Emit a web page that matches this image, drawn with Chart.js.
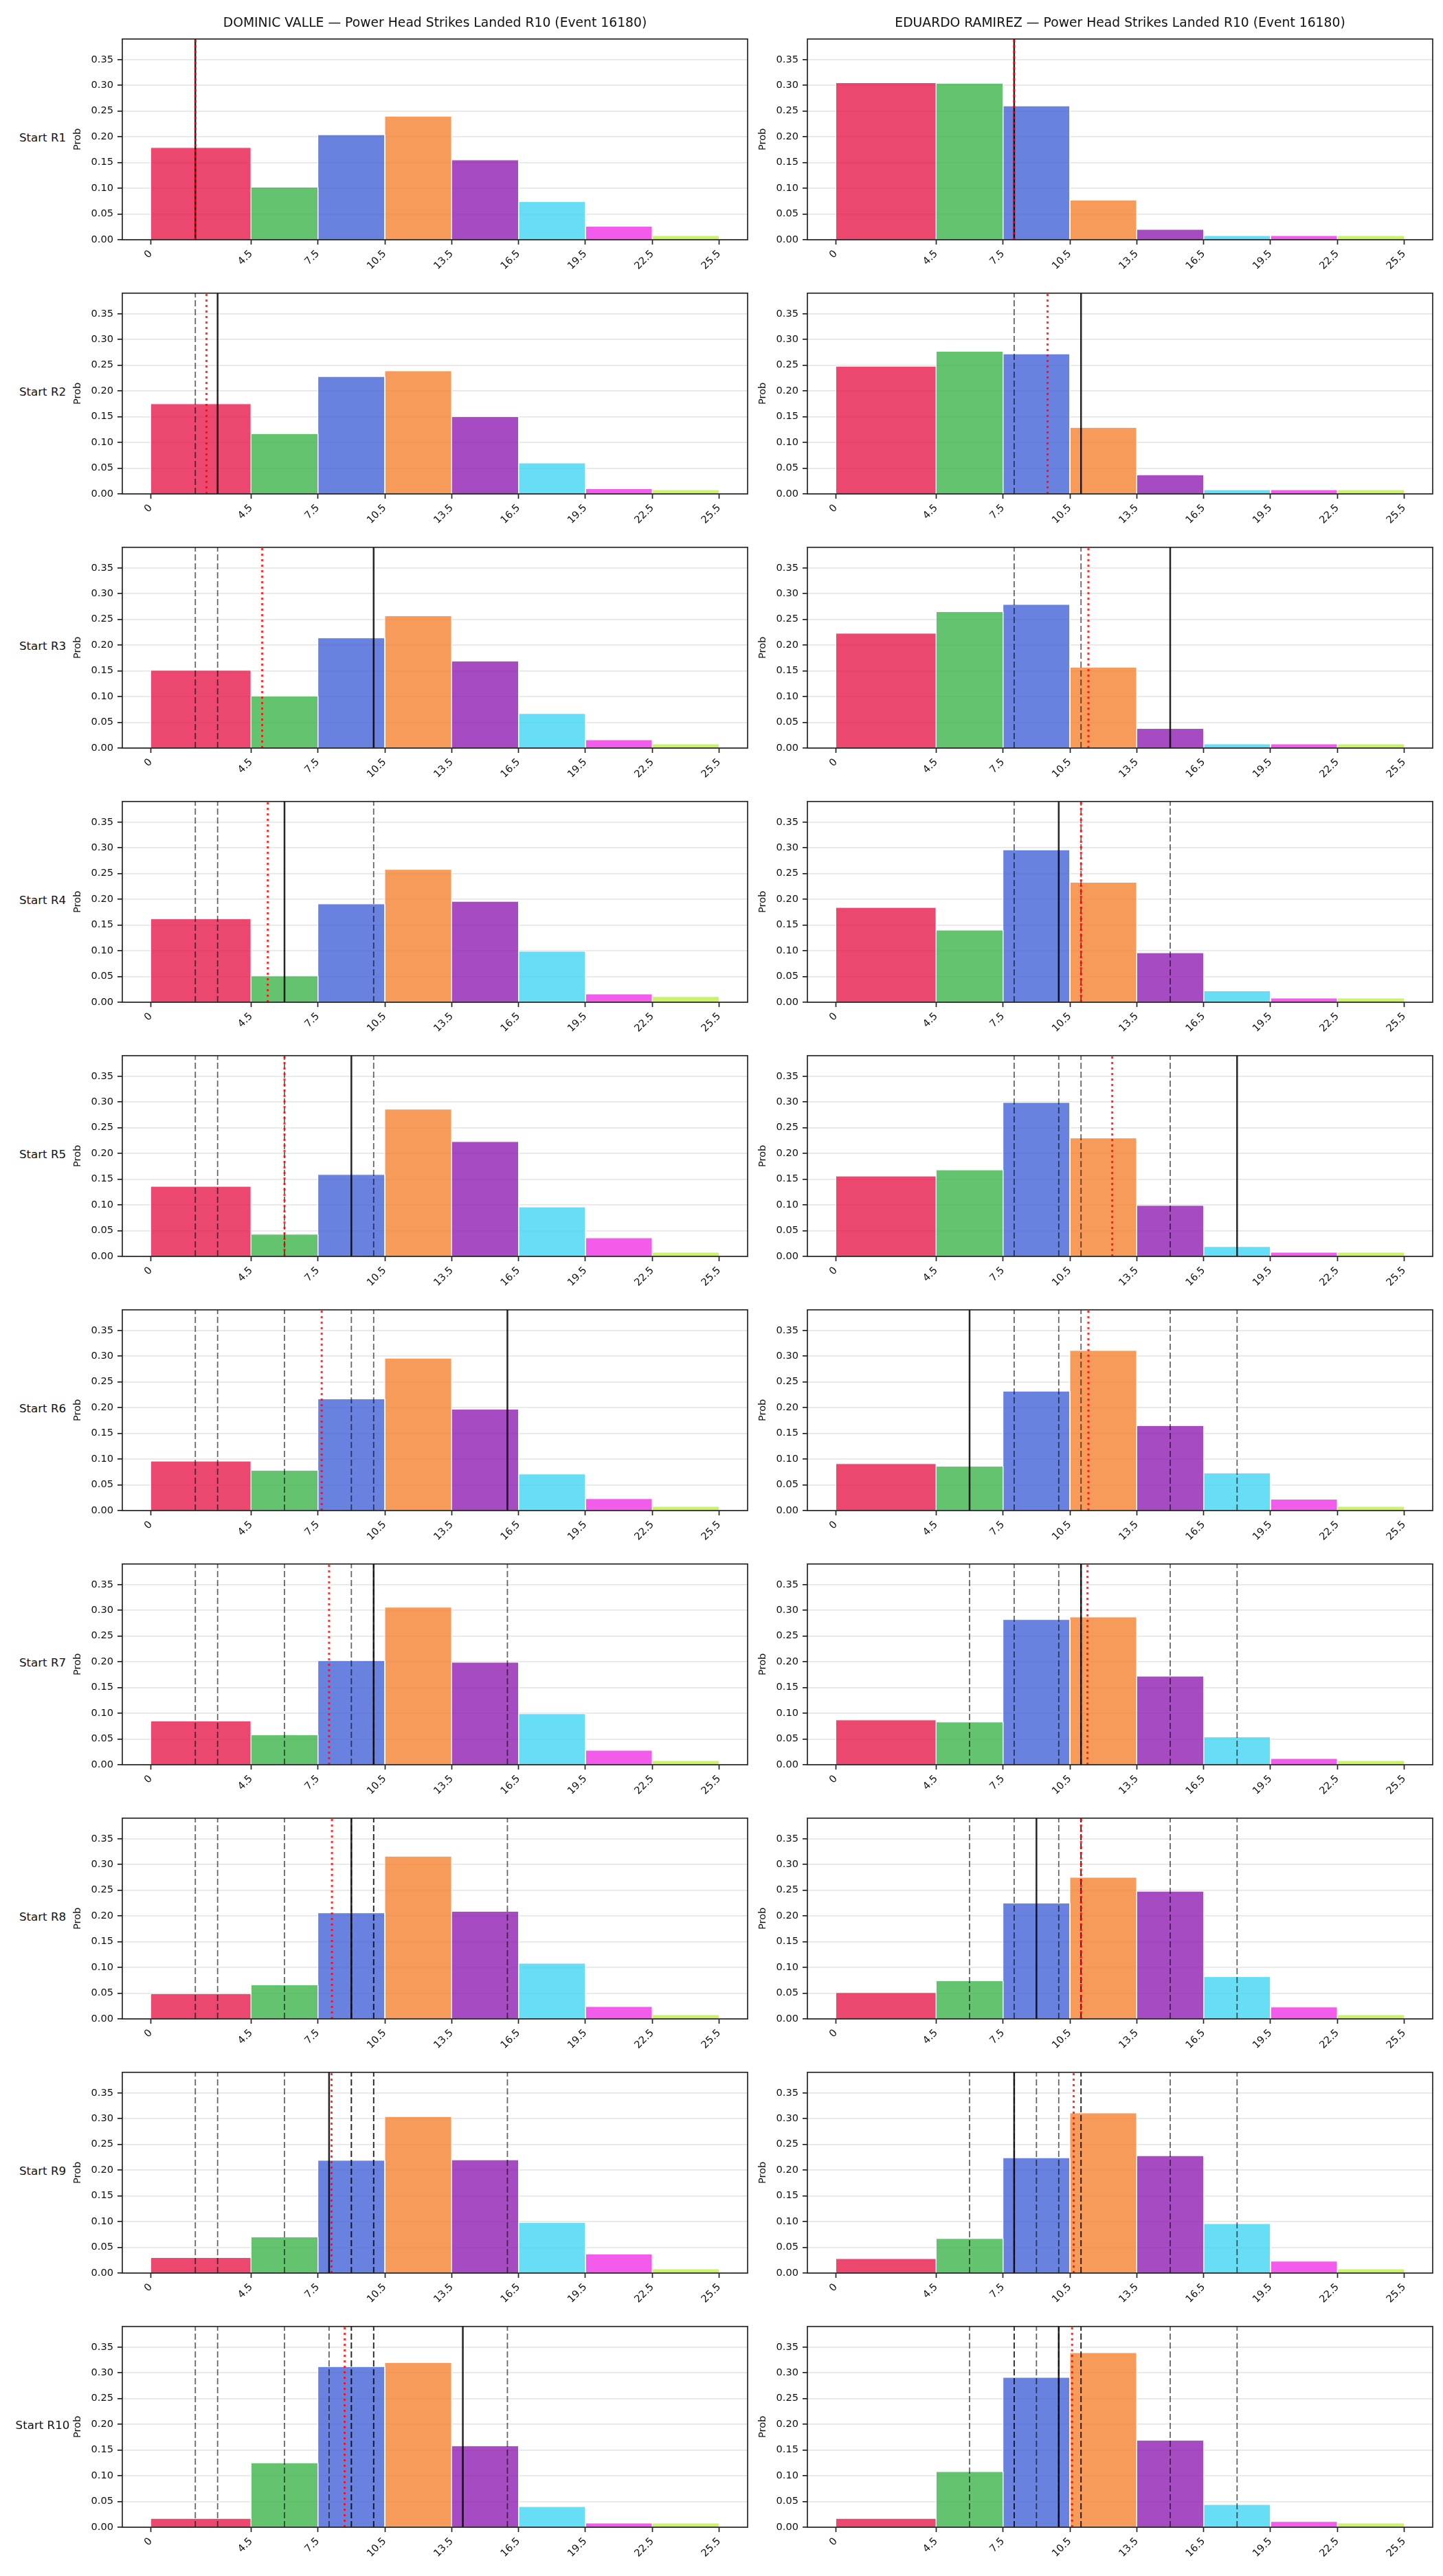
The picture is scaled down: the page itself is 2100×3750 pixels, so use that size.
<!DOCTYPE html>
<html>
<head>
<meta charset="utf-8">
<script src="https://cdn.jsdelivr.net/npm/chart.js@4.4.1/dist/chart.umd.min.js"></script>
<style>
  body { margin: 0; background: #fff; width: 2100px; height: 3750px; position: relative; overflow: hidden; font-family: "DejaVu Sans", sans-serif; }
  canvas { position: absolute; }
  .title { position: absolute; font-size: 18.75px; color: #111; white-space: nowrap; transform: translate(-50%, -50%); }
  .rowlab { position: absolute; font-size: 16.67px; color: #111; white-space: nowrap; transform: translate(-50%, -50%); }
</style>
</head>
<body>
<script>
// bins and ticks
const binEdges = [0, 4.5, 7.5, 10.5, 13.5, 16.5, 19.5, 22.5, 25.5]
const xTickLabels = ["0", "4.5", "7.5", "10.5", "13.5", "16.5", "19.5", "22.5", "25.5"]
const yTickValues = [0, 0.05, 0.10, 0.15, 0.20, 0.25, 0.30, 0.35]
const yTickLabels = ["0.00", "0.05", "0.10", "0.15", "0.20", "0.25", "0.30", "0.35"]
const binColors = ["230,25,75", "60,180,75", "67,99,216", "245,130,49", "145,30,180", "66,212,244", "240,50,230", "191,239,69"]
const roundLabels = ["Start R1", "Start R2", "Start R3", "Start R4", "Start R5", "Start R6", "Start R7", "Start R8", "Start R9", "Start R10"]

const fighters = ["DOMINIC VALLE", "EDUARDO RAMIREZ"]
const titleSuffix = " — Power Head Strikes Landed R10 (Event 16180)"

// probabilities per bin, one row per starting round
const valleProbs = [
  [0.179, 0.102, 0.204, 0.240, 0.155, 0.074, 0.026, 0.008],
  [0.175, 0.117, 0.228, 0.239, 0.150, 0.060, 0.010, 0.008],
  [0.151, 0.101, 0.214, 0.257, 0.169, 0.067, 0.016, 0.008],
  [0.162, 0.051, 0.191, 0.258, 0.196, 0.099, 0.016, 0.011],
  [0.136, 0.043, 0.159, 0.286, 0.223, 0.096, 0.036, 0.008],
  [0.096, 0.078, 0.217, 0.296, 0.197, 0.071, 0.023, 0.008],
  [0.085, 0.058, 0.202, 0.306, 0.199, 0.099, 0.028, 0.008],
  [0.049, 0.066, 0.206, 0.316, 0.209, 0.108, 0.024, 0.008],
  [0.030, 0.070, 0.219, 0.304, 0.220, 0.098, 0.037, 0.008],
  [0.017, 0.125, 0.312, 0.320, 0.158, 0.040, 0.008, 0.008]
]
const ramirezProbs = [
  [0.305, 0.304, 0.260, 0.077, 0.020, 0.008, 0.008, 0.008],
  [0.248, 0.277, 0.272, 0.129, 0.037, 0.008, 0.008, 0.008],
  [0.223, 0.265, 0.279, 0.157, 0.038, 0.008, 0.008, 0.008],
  [0.184, 0.140, 0.296, 0.233, 0.096, 0.022, 0.008, 0.008],
  [0.156, 0.168, 0.299, 0.230, 0.099, 0.019, 0.008, 0.008],
  [0.091, 0.086, 0.232, 0.311, 0.165, 0.073, 0.022, 0.008],
  [0.087, 0.083, 0.282, 0.287, 0.172, 0.054, 0.012, 0.008],
  [0.051, 0.074, 0.225, 0.275, 0.248, 0.082, 0.023, 0.008],
  [0.028, 0.067, 0.224, 0.311, 0.228, 0.096, 0.023, 0.008],
  [0.017, 0.108, 0.291, 0.339, 0.169, 0.044, 0.011, 0.008]
]

// landed per round (solid line), earlier rounds shown dashed
const valleActual = [2, 3, 10, 6, 9, 16, 10, 9, 8, 14]
const ramirezActual = [8, 11, 15, 10, 18, 6, 11, 9, 8, 10]
// running average (red dotted line)
const valleMean = [2, 2.5, 5, 5.25, 6, 7.67, 8, 8.13, 8.11, 8.7]
const ramirezMean = [8, 9.5, 11.33, 11, 12.4, 11.33, 11.29, 11, 10.67, 10.6]

const Y_MAX = 0.39
const X_MIN = -1.275
const X_MAX = 26.775

Chart.defaults.font.family = "DejaVu Sans"
Chart.defaults.color = "#111"

const W_Y = 78, H_X = 62, PAD_T = 8, PAD_R = 5, PLOT_W = 910, PLOT_H = 299
const CW = W_Y + PLOT_W + PAD_R, CH = PAD_T + PLOT_H + H_X
const colLeft = [100, 1097]
const ROW0 = 42, ROW_STEP = 370

const framePlugin = {
  id: "frame",
  afterDraw(chart){
    const ctx = chart.ctx
    const a = chart.chartArea
    ctx.save()
    ctx.strokeStyle = "#222"
    ctx.lineWidth = 1.67
    ctx.strokeRect(a.left, a.top, a.right - a.left, a.bottom - a.top)
    ctx.restore()
  }
}

function vline(x, color, width, dash, order){
  return {
    type: "line",
    data: [{x: x, y: 0}, {x: x, y: Y_MAX}],
    borderColor: color,
    borderWidth: width,
    borderDash: dash,
    pointRadius: 0,
    fill: false,
    order: order
  }
}

function makePanel(col, row, probs, actual, mean){
  const canvas = document.createElement("canvas")
  canvas.width = CW
  canvas.height = CH
  canvas.style.width = CW + "px"
  canvas.style.height = CH + "px"
  canvas.style.left = colLeft[col] + "px"
  canvas.style.top = (ROW0 + ROW_STEP * row) + "px"
  document.body.appendChild(canvas)

  const datasets = []

  // bars as filled rectangles in data space
  probs.forEach((p, i) => {
    datasets.push({
      type: "line",
      data: [
        {x: binEdges[i], y: 0},
        {x: binEdges[i], y: p},
        {x: binEdges[i + 1], y: p},
        {x: binEdges[i + 1], y: 0}
      ],
      backgroundColor: `rgba(${binColors[i]},0.8)`,
      borderColor: "#ffffff",
      borderWidth: 1,
      pointRadius: 0,
      tension: 0,
      fill: "origin",
      order: 10
    })
  })

  for (let k = 0; k < row; k++){
    datasets.push(vline(actual[k], "rgba(0,0,0,0.6)", 1.8, [9, 4], 3))
  }
  datasets.push(vline(actual[row], "rgba(0,0,0,0.85)", 2.5, [], 2))
  datasets.push(vline(mean[row], "rgba(255,0,0,0.8)", 3, [3, 5], 1))

  new Chart(canvas, {
    type: "line",
    data: { datasets: datasets },
    options: {
      responsive: false,
      animation: false,
      devicePixelRatio: 1,
      layout: { padding: { top: PAD_T, right: PAD_R, left: 0, bottom: 0 } },
      plugins: { legend: { display: false }, tooltip: { enabled: false } },
      scales: {
        x: {
          type: "linear",
          min: X_MIN,
          max: X_MAX,
          afterBuildTicks: axis => { axis.ticks = binEdges.map(v => ({value: v})) },
          afterFit: scale => { scale.height = H_X },
          border: { display: false },
          grid: { drawOnChartArea: false, drawTicks: true, tickLength: 7, tickColor: "#222", tickWidth: 1.67 },
          ticks: {
            autoSkip: false,
            minRotation: 45,
            maxRotation: 45,
            padding: 5,
            font: { size: 14.6 },
            color: "#111",
            callback: (v, i) => xTickLabels[i]
          }
        },
        y: {
          min: 0,
          max: Y_MAX,
          z: 1,
          afterBuildTicks: axis => { axis.ticks = yTickValues.map(v => ({value: v})) },
          afterFit: scale => { scale.width = W_Y },
          border: { display: false },
          grid: { color: "rgba(176,176,176,0.3)", lineWidth: 1.67, drawTicks: true, tickLength: 7, tickColor: "#222", tickWidth: 1.67 },
          ticks: {
            padding: 6,
            font: { size: 14.6 },
            color: "#111",
            callback: (v, i) => yTickLabels[i]
          },
          title: { display: true, text: "Prob", font: { size: 14.6 }, color: "#111", padding: { top: 4, bottom: 0 } }
        }
      }
    },
    plugins: [framePlugin]
  })
}

for (let r = 0; r < roundLabels.length; r++){
  makePanel(0, r, valleProbs[r], valleActual, valleMean)
  makePanel(1, r, ramirezProbs[r], ramirezActual, ramirezMean)

  const lab = document.createElement("div")
  lab.className = "rowlab"
  lab.textContent = roundLabels[r]
  lab.style.left = "62px"
  lab.style.top = (ROW0 + PAD_T + ROW_STEP * r + PLOT_H / 2) + "px"
  document.body.appendChild(lab)
}

fighters.forEach((name, c) => {
  const t = document.createElement("div")
  t.className = "title"
  t.textContent = name + titleSuffix
  t.style.left = (colLeft[c] + W_Y + PLOT_W / 2) + "px"
  t.style.top = "32px"
  document.body.appendChild(t)
})
</script>
</body>
</html>
